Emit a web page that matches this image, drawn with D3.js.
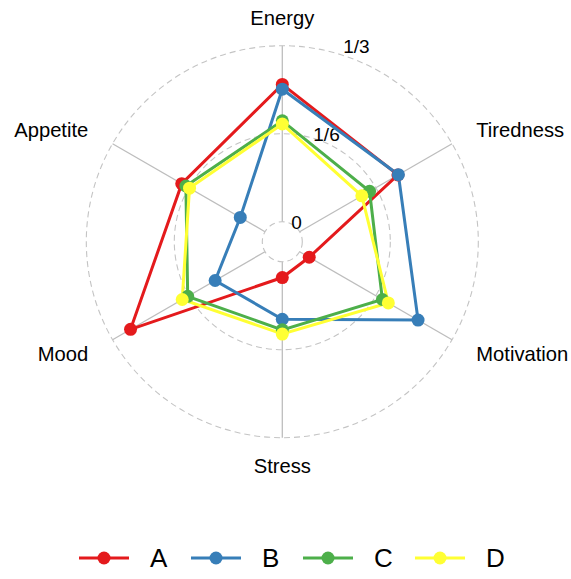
<!DOCTYPE html>
<html>
<head>
<meta charset="utf-8">
<script src="https://cdn.jsdelivr.net/npm/d3@7"></script>
<style>
  body { margin: 0; background: #fff; }
  text { font-family: "Liberation Sans", Arial, sans-serif; fill: #000; }
</style>
</head>
<body>
<div id="radar"></div>
<script>
// axes go clockwise from the top
const axes = ['Energy', 'Tiredness', 'Motivation', 'Stress', 'Mood', 'Appetite'];
const groups = ['A', 'B', 'C', 'D'];
const seriesA = [0.260, 0.215, 0.021, 0.030, 0.294, 0.182];
const seriesB = [0.251, 0.216, 0.259, 0.109, 0.109, 0.054];
const seriesC = [0.191, 0.153, 0.181, 0.129, 0.169, 0.173];
const seriesD = [0.185, 0.136, 0.194, 0.137, 0.181, 0.165];
const gridValues = [0, 1/6, 1/3];
const gridLabels = ['0', '1/6', '1/3'];

const colors = ['#E41A1C', '#377EB8', '#4DAF4A', '#FFFF33'];

const width = 571;
const height = 579;
const cx = 282.3;
const cy = 241.7;

const svg = d3.select('#radar').append('svg')
  .attr('width', width)
  .attr('height', height);

const r = d3.scaleLinear().domain([0, 1/3]).range([20, 196]);
const angle = d3.scalePoint().domain(axes).range([0, 2 * Math.PI * 5 / 6]);

// point for value v on axis a
function pt(a, v) {
  const t = angle(a);
  return [cx + Math.sin(t) * r(v), cy - Math.cos(t) * r(v)];
}

const g = svg.append('g');

// spokes
g.selectAll('line.spoke')
  .data(axes)
  .enter().append('line')
    .attr('class', 'spoke')
    .attr('x1', d => pt(d, 0)[0])
    .attr('y1', d => pt(d, 0)[1])
    .attr('x2', d => pt(d, 1/3)[0])
    .attr('y2', d => pt(d, 1/3)[1])
    .style('stroke', '#bdbdbd')
    .style('stroke-width', 1.3);

// dashed grid circles
g.selectAll('circle.grid')
  .data(gridValues)
  .enter().append('circle')
    .attr('class', 'grid')
    .attr('cx', cx)
    .attr('cy', cy)
    .attr('r', d => r(d))
    .style('fill', 'none')
    .style('stroke', '#c4c4c4')
    .style('stroke-width', 1.1)
    .style('stroke-dasharray', '6,4');

// grid labels
g.selectAll('text.gridlab')
  .data(gridValues)
  .enter().append('text')
    .attr('class', 'gridlab')
    .attr('x', d => cx + 0.34 * r(d) + 7.5)
    .attr('y', d => cy - r(d))
    .attr('dy', '0.36em')
    .attr('text-anchor', 'middle')
    .style('font-size', '19px')
    .text((d, i) => gridLabels[i]);

// axis labels
g.selectAll('text.axis')
  .data(axes)
  .enter().append('text')
    .attr('class', 'axis')
    .attr('x', d => cx + Math.sin(angle(d)) * 224)
    .attr('y', d => cy - Math.cos(angle(d)) * 224)
    .attr('dy', '0.36em')
    .attr('text-anchor', d => {
      const s = Math.sin(angle(d));
      return Math.abs(s) < 0.01 ? 'middle' : (s > 0 ? 'start' : 'end');
    })
    .style('font-size', '20.2px')
    .text(d => d);

const series = [seriesA, seriesB, seriesC, seriesD].map((vals, i) => ({
  name: groups[i],
  color: colors[i],
  points: axes.map((a, j) => pt(a, vals[j]))
}));

const line = d3.line().curve(d3.curveLinearClosed);

g.selectAll('path.series')
  .data(series)
  .enter().append('path')
    .attr('class', 'series')
    .attr('d', d => line(d.points))
    .style('fill', 'none')
    .style('stroke', d => d.color)
    .style('stroke-width', 3);

series.forEach(s => {
  g.selectAll(null)
    .data(s.points)
    .enter().append('circle')
      .attr('cx', d => d[0])
      .attr('cy', d => d[1])
      .attr('r', 6.5)
      .style('fill', s.color);
});

// legend
const lx = d3.scalePoint().domain(groups).range([104, 440]);
const legendY = 558;
const leg = svg.append('g').selectAll('g')
  .data(series)
  .enter().append('g');

leg.append('line')
  .attr('x1', d => lx(d.name) - 25)
  .attr('x2', d => lx(d.name) + 25)
  .attr('y1', legendY)
  .attr('y2', legendY)
  .style('stroke', d => d.color)
  .style('stroke-width', 3);

leg.append('circle')
  .attr('cx', d => lx(d.name))
  .attr('cy', legendY)
  .attr('r', 6.5)
  .style('fill', d => d.color);

leg.append('text')
  .attr('x', d => lx(d.name) + 46)
  .attr('y', legendY)
  .attr('dy', '0.36em')
  .style('font-size', '26px')
  .text(d => d.name);
</script>
</body>
</html>
